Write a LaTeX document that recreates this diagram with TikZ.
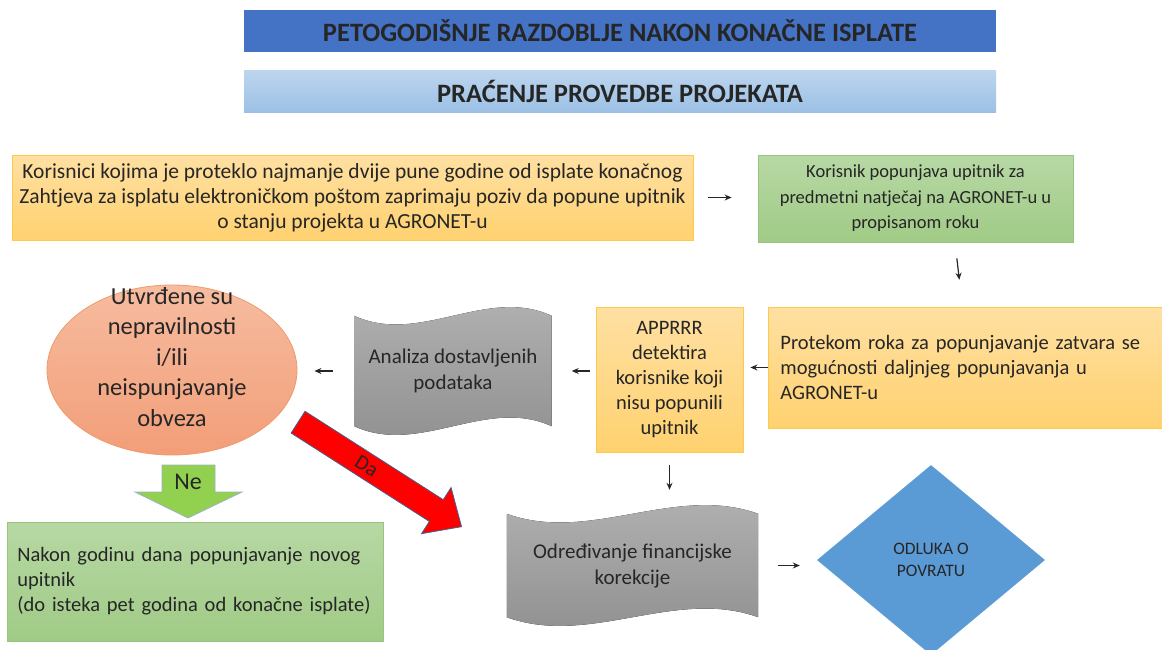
\documentclass[tikz,border=0pt]{standalone}
\usepackage{fontspec}
\setmainfont{Carlito}
\usetikzlibrary{shapes.geometric,shapes.arrows,arrows.meta,calc,backgrounds}
\definecolor{tekst}{HTML}{262626}
\definecolor{plava}{HTML}{4472C4}
\definecolor{plavav}{HTML}{BDD5EE}
\definecolor{plavad}{HTML}{9CC0E5}
\definecolor{narv}{HTML}{FFE0A2}
\definecolor{nard}{HTML}{FFD270}
\definecolor{narrub}{HTML}{FFC94A}
\definecolor{zelv}{HTML}{B7D8A4}
\definecolor{zeld}{HTML}{A0CB86}
\definecolor{zelrub}{HTML}{98C47E}
\definecolor{sivav}{HTML}{B3B3B3}
\definecolor{sivad}{HTML}{8E8E8E}
\definecolor{lososv}{HTML}{F7BCA0}
\definecolor{lososd}{HTML}{F29E78}
\definecolor{lososrub}{HTML}{EF9A6A}
\definecolor{romb}{HTML}{5B9BD5}
\definecolor{rub}{HTML}{41638F}
\definecolor{svjzel}{HTML}{92D050}
\tikzset{
  naslov/.style={minimum width=752,minimum height=42,inner sep=0,text=tekst,
    font=\fontsize{26.5}{30}\selectfont\bfseries},
  narancasto/.style={draw=narrub,line width=0.8,top color=narv,bottom color=nard,
    text=tekst,font=\fontsize{20.5}{25}\selectfont,align=center,inner sep=0},
  zeleno/.style={draw=zelrub,line width=0.8,top color=zelv,bottom color=zeld,
    text=tekst,font=\fontsize{20.5}{25}\selectfont,align=center,inner sep=0},
  traka/.style={inner sep=0,text=tekst,font=\fontsize{21}{26}\selectfont,align=center},
  strelica/.style={-{Stealth[length=7,width=6]},line width=1.2,tekst}
}
\newcommand\trakaoblik[1]{%
  \fill[top color=sivav,bottom color=sivad]
    (#1.north west) .. controls ($(#1.north west)!0.33!(#1.north east)+(0pt,-30pt)$)
      and ($(#1.north west)!0.67!(#1.north east)+(0pt,30pt)$) .. (#1.north east)
    -- (#1.south east) .. controls ($(#1.south west)!0.67!(#1.south east)+(0pt,30pt)$)
      and ($(#1.south west)!0.33!(#1.south east)+(0pt,-30pt)$) .. (#1.south west) -- cycle;}
\begin{document}
\begin{tikzpicture}[x=1pt,y=-1pt]
\useasboundingbox (0,0) rectangle (1162,649);

\node[naslov,fill=plava] (t1) at (620,31) {PETOGODIŠNJE RAZDOBLJE NAKON KONAČNE ISPLATE};
\node[naslov,top color=plavav,bottom color=plavad] (t2) at (620,91) {PRAĆENJE PROVEDBE PROJEKATA};

\node[narancasto,minimum width=681,minimum height=85,font=\fontsize{21.5}{25}\selectfont] (b1) at (352.5,197.5)
  {Korisnici kojima je proteklo najmanje dvije pune godine od isplate konačnog\\
   Zahtjeva za isplatu elektroničkom poštom zaprimaju poziv da popune upitnik\\
   o stanju projekta u AGRONET-u};
\node[zeleno,minimum width=315,minimum height=87,font=\fontsize{18.5}{25.5}\selectfont] (b2) at (915.5,198.5)
  {Korisnik popunjava upitnik za\\predmetni natječaj na AGRONET-u u\\propisanom roku};
\node[narancasto,anchor=west,align=left,text width=384,inner xsep=12,minimum height=121] (b3) at (768,367.5)
  {Protekom roka za popunjavanje zatvara se\\mogućnosti daljnjeg popunjavanja u\\AGRONET-u};
\node[narancasto,minimum width=147,minimum height=145] (b4) at (669.5,379.5)
  {APPRRR\\detektira\\korisnike koji\\nisu popunili\\upitnik};

\node[traka,minimum width=197,minimum height=110] (d1) at (453,371) {Analiza dostavljenih\\podataka};
\node[traka,minimum width=251,minimum height=103] (d2) at (632.5,565.5) {Određivanje financijske\\korekcije};
\begin{scope}[on background layer]
\trakaoblik{d1}
\trakaoblik{d2}
\end{scope}

\node[ellipse,draw=lososrub,line width=0.8,top color=lososv,bottom color=lososd,
  minimum width=250,minimum height=170,inner sep=0] (e1) at (172,370) {};
\node[align=center,text=tekst,font=\fontsize{24.5}{30.5}\selectfont] (e1t) at ([yshift=13]e1.center)
  {Utvrđene su\\nepravilnosti\\i/ili\\neispunjavanje\\obveza};

\node[diamond,fill=romb,minimum width=228,minimum height=190,inner sep=0,align=center,
  text=tekst,font=\fontsize{17.5}{22}\selectfont] (r) at (931,560) {ODLUKA O\\POVRATU};

\node[zeleno,anchor=west,align=left,text width=356,inner xsep=10,minimum height=119] (b5) at (7,581.5)
  {Nakon godinu dana popunjavanje novog\\upitnik\\(do isteka pet godina od konačne isplate)};

% Ne / Da
\draw[fill=svjzel,draw=rub!50,line width=0.8] (162,465) -- (215,465) -- (215,492) -- (242,492)
  -- (188,518) -- (135,492) -- (162,492) -- cycle;
\node[text=tekst,font=\fontsize{24}{28}\selectfont] (ne) at (188,482) {Ne};
\node[single arrow,fill=red,draw=rub,line width=0.8,rotate=-32.6,anchor=tip,
  minimum height=194,inner xsep=0,inner ysep=12.5,text height=0,text depth=0,
  single arrow head extend=14.5,single arrow tip angle=85] (da) at (462,527) {};
\node[rotate=-32.6,text=tekst,font=\fontsize{21}{25}\selectfont] (dat) at ($(da.tail)!0.42!(da.tip)$) {Da};

\draw[strelica,shorten <=15,shorten >=26] (b1.east) -- (b1.east -| b2.west);
\draw[strelica,shorten <=16,shorten >=27] ([xshift=39.5]b2.south) -- ([xshift=-10]b3.north);
\draw[strelica,shorten >=7] (b3.west) -- (b3.west -| b4.east);
\draw[strelica,shorten <=6,shorten >=20] (b4.west |- d1.east) -- (d1.east);
\draw[strelica,shorten <=21,shorten >=17] (d1.west) -- (d1.west -| e1.east);
\draw[strelica,shorten <=13,shorten >=24] (b4.south) -- (b4.south |- d2.north);
\draw[strelica,shorten <=20,shorten >=17] (d2.east) -- (d2.east -| r.west);
\end{tikzpicture}
\end{document}
